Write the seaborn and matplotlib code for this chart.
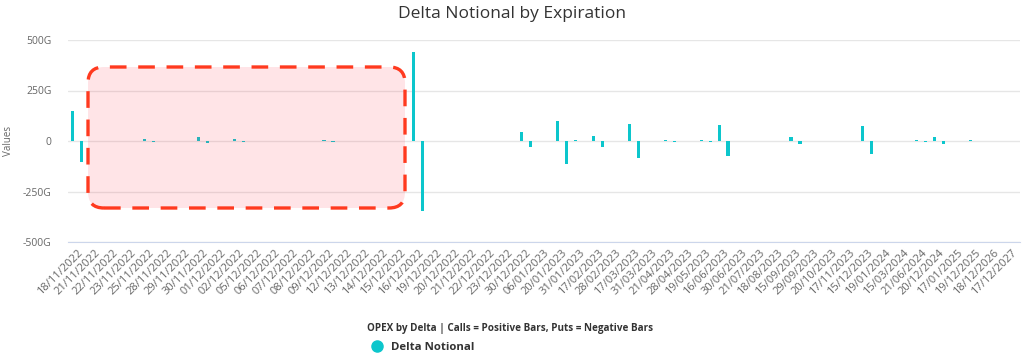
import seaborn as sns
import matplotlib.pyplot as plt
import pandas as pd
from matplotlib.patches import FancyBboxPatch
from matplotlib.lines import Line2D
from matplotlib.ticker import FuncFormatter

# expiration dates (categories)
dates = [
    '18/11/2022', '21/11/2022', '22/11/2022', '23/11/2022', '25/11/2022', '28/11/2022',
    '29/11/2022', '30/11/2022', '01/12/2022', '02/12/2022', '05/12/2022', '06/12/2022',
    '07/12/2022', '08/12/2022', '09/12/2022', '12/12/2022', '13/12/2022', '14/12/2022',
    '15/12/2022', '16/12/2022', '19/12/2022', '20/12/2022', '21/12/2022', '22/12/2022',
    '23/12/2022', '30/12/2022', '06/01/2023', '20/01/2023', '31/01/2023', '17/02/2023',
    '28/02/2023', '17/03/2023', '31/03/2023', '21/04/2023', '28/04/2023', '19/05/2023',
    '16/06/2023', '30/06/2023', '21/07/2023', '18/08/2023', '15/09/2023', '29/09/2023',
    '20/10/2023', '17/11/2023', '15/12/2023', '19/01/2024', '15/03/2024', '21/06/2024',
    '20/12/2024', '17/01/2025', '19/12/2025', '18/12/2026', '17/12/2027',
]
# delta notional in G (billions): calls positive, puts negative
calls = [148, 1, 1, 2, 8, 1, 1, 20, 2, 8, 1, 1, 1, 1, 4, 1, 1, 1, 1, 440,
         1, 1, 1, 1, 1, 43, 1, 100, 3, 25, 1, 82, 1, 3, 1, 4, 77, 1, 1, 1,
         20, 1, 1, 1, 75, 1, 1, 4, 20, 1, 4, 1, 1]
puts = [-103, -1, -1, -1, -5, -1, -1, -8, -1, -3, -1, -1, -1, -1, -3, -1, -1, -1, -1, -345,
        -1, -1, -1, -1, -1, -28, -1, -115, -1, -31, -1, -85, -1, -5, -1, -4, -72, -1, -1, -1,
        -13, -1, -1, -1, -62, -1, -1, -4, -16, -1, -1, -1, -1]
yticks = [-500, -250, 0, 250, 500]

df = pd.DataFrame({
    'date': dates * 2,
    'value': calls + puts,
    'side': ['Calls'] * len(dates) + ['Puts'] * len(dates),
})

cyan = '#0cc6cc'
sns.set_style('white')
plt.rcParams['font.family'] = ['Open Sans', 'DejaVu Sans']

fig = plt.figure(figsize=(10.24, 3.56), dpi=100)
ax = fig.add_axes([68 / 1024, 1 - 242 / 356, 952 / 1024, 202 / 356])

sns.barplot(data=df, x='date', y='value', hue='side', palette=[cyan, cyan],
            width=1.0, gap=0.64, dodge=True, legend=False, ax=ax, zorder=3,
            edgecolor='none', saturation=1)

ax.set_ylim(-500, 500)
ax.set_xlim(-0.5, len(dates) - 0.5)
ax.set_yticks(yticks)
ax.yaxis.set_major_formatter(FuncFormatter(lambda v, p: '0' if v == 0 else f'{v:g}G'))
ax.grid(axis='y', color='#e6e6e6', linewidth=1, zorder=0)
ax.grid(axis='x', visible=False)
for s in ['top', 'right', 'left']:
    ax.spines[s].set_visible(False)
ax.spines['bottom'].set_color('#ccd6eb')
ax.spines['bottom'].set_position(('data', -500))
ax.tick_params(axis='y', length=0, labelsize=7.5, colors='#666666', pad=12)
ax.tick_params(axis='x', length=0, labelsize=8, colors='#666666', pad=4)
plt.setp(ax.get_xticklabels(), rotation=45, ha='right', rotation_mode='anchor')
ax.set_xlabel('')
ax.set_ylabel('Values', fontsize=7, color='#666666', labelpad=6)

fig.text(0.5, 1 - 14 / 356, 'Delta Notional by Expiration', ha='center', va='center',
         fontsize=12.5, color='#333333')
fig.text(0.498, 1 - 329 / 356, 'OPEX by Delta | Calls = Positive Bars, Puts = Negative Bars',
         ha='center', va='center', fontsize=7.1, fontweight='bold', color='#333333')

handle = Line2D([], [], marker='o', color=cyan, linestyle='', markersize=8)
fig.legend([handle], ['Delta Notional'], loc='center', bbox_to_anchor=(0.41, 1 - 347 / 356),
           frameon=False, handletextpad=0.2, prop={'weight': 'bold', 'size': 8.2},
           labelcolor='#333333')

# highlighted region annotation
box = FancyBboxPatch((88, 148), 317, 141, boxstyle='round,pad=0,rounding_size=16',
                     transform=None, facecolor=(1, 0.15, 0.25, 0.12), edgecolor='#ff3a1f',
                     linewidth=2.4, linestyle=(0, (5, 3.5)), zorder=10)
fig.add_artist(box)

fig.savefig('out.png', dpi=100)
